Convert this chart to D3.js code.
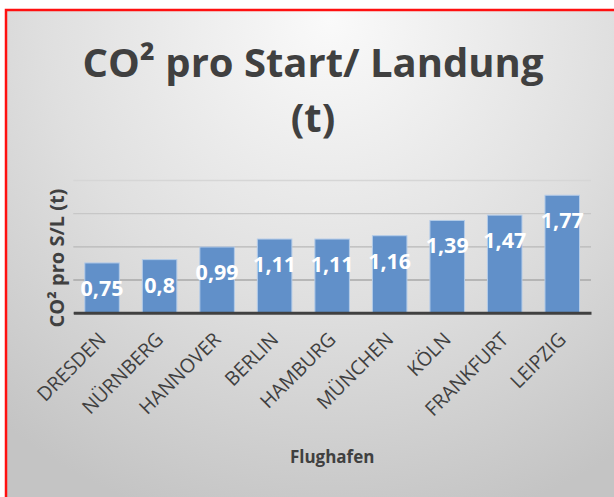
<!DOCTYPE html>
<html>
<head>
<meta charset="utf-8">
<script src="https://cdn.jsdelivr.net/npm/d3@7"></script>
<style>
  html, body { margin: 0; padding: 0; background: #ffffff; }
  svg { display: block; }
  text { font-family: "Open Sans", Lato, sans-serif; }
</style>
</head>
<body>
<div class="container"></div>
<script>
// CO2 per take-off / landing, by airport

var airports = ['DRESDEN', 'NÜRNBERG', 'HANNOVER', 'BERLIN', 'HAMBURG', 'MÜNCHEN', 'KÖLN', 'FRANKFURT', 'LEIPZIG'];
var co2 = [0.75, 0.8, 0.99, 1.11, 1.11, 1.16, 1.39, 1.47, 1.77];
var gridTicks = [0, 0.5, 1, 1.5, 2];

var chartOptions = {
  width: 614,
  height: 497,
  left: 73.3,
  right: 591,
  top: 180,
  bottom: 312.7,
  textColor: '#404040'
};

var svg = d3.select('.container').append('svg')
            .attr('width', chartOptions.width)
            .attr('height', chartOptions.height);

// background with soft radial shading
var defs = svg.append('defs');
var bg = defs.append('radialGradient')
             .attr('id', 'bg')
             .attr('gradientUnits', 'userSpaceOnUse')
             .attr('cx', 330).attr('cy', 20).attr('r', 520);
bg.append('stop').attr('offset', '0%').attr('stop-color', '#fafafa');
bg.append('stop').attr('offset', '55%').attr('stop-color', '#dfdfdf');
bg.append('stop').attr('offset', '100%').attr('stop-color', '#c4c4c4');

svg.append('rect')
   .attr('x', 0).attr('y', 0)
   .attr('width', chartOptions.width).attr('height', chartOptions.height)
   .attr('fill', '#ffffff');

svg.append('rect')
   .attr('x', 6).attr('y', 10)
   .attr('width', 640).attr('height', 520)
   .attr('fill', 'url(#bg)')
   .attr('stroke', '#ff1010')
   .attr('stroke-width', 2.5);

var x = d3.scaleBand()
          .domain(airports)
          .range([chartOptions.left, chartOptions.right])
          .paddingInner(0.4)
          .paddingOuter(0.2);

var y = d3.scaleLinear()
          .domain([0, 2])
          .range([chartOptions.bottom, chartOptions.top]);

// gridlines get darker toward the baseline
var gridColor = d3.scaleLinear().domain([0, 2]).range(['#9a9a9a', '#d6d6d6']);

var grid = svg.append('g')
              .attr('transform', 'translate(' + chartOptions.left + ',0)')
              .call(d3.axisLeft(y).tickValues(gridTicks)
                      .tickSize(-(chartOptions.right - chartOptions.left))
                      .tickFormat(''));
grid.select('.domain').remove();
grid.selectAll('.tick line')
    .attr('stroke', function(d){ return gridColor(d); })
    .attr('stroke-width', 1.3);

// bars
svg.selectAll('rect.bar')
   .data(co2)
   .enter()
   .append('rect')
   .attr('class', 'bar')
   .attr('x', function(d, i){ return x(airports[i]); })
   .attr('y', function(d){ return y(d); })
   .attr('width', x.bandwidth())
   .attr('height', function(d){ return y(0) - y(d); })
   .attr('fill', '#6190c9')
   .attr('stroke', '#b3cbe8')
   .attr('stroke-width', 1);

// value labels
svg.selectAll('text.value')
   .data(co2)
   .enter()
   .append('text')
   .attr('class', 'value')
   .attr('x', function(d, i){ return x(airports[i]) + x.bandwidth() / 2; })
   .attr('y', function(d){ return y(d) + 33; })
   .attr('text-anchor', 'middle')
   .attr('font-size', 21.5)
   .attr('font-weight', 'bold')
   .attr('fill', '#ffffff')
   .text(function(d){ return String(d).replace('.', ','); });

// x axis
var xAxis = svg.append('g')
               .attr('transform', 'translate(0,' + chartOptions.bottom + ')')
               .call(d3.axisBottom(x).tickSize(0).tickPadding(0));
xAxis.select('.domain')
     .attr('stroke', '#404040')
     .attr('stroke-width', 3);
xAxis.selectAll('.tick text')
     .attr('x', 0).attr('y', 0).attr('dy', 0)
     .attr('transform', 'translate(5,28) rotate(-45)')
     .attr('text-anchor', 'end')
     .attr('font-size', 19.5)
     .attr('font-family', '"Open Sans", Lato, sans-serif')
     .attr('fill', chartOptions.textColor);

// titles
var title = svg.append('text')
               .attr('text-anchor', 'middle')
               .attr('font-size', 40)
               .attr('font-weight', 'bold')
               .attr('fill', chartOptions.textColor);
title.append('tspan').attr('x', 313).attr('y', 77).text('CO² pro Start/ Landung');
title.append('tspan').attr('x', 313).attr('y', 132).text('(t)');

svg.append('text')
   .attr('transform', 'translate(64,258) rotate(-90)')
   .attr('text-anchor', 'middle')
   .attr('font-size', 20)
   .attr('font-weight', 'bold')
   .attr('fill', chartOptions.textColor)
   .text('CO² pro S/L (t)');

svg.append('text')
   .attr('x', (chartOptions.left + chartOptions.right) / 2)
   .attr('y', 463)
   .attr('text-anchor', 'middle')
   .attr('font-size', 17)
   .attr('font-weight', 'bold')
   .attr('fill', chartOptions.textColor)
   .text('Flughafen');
</script>
</body>
</html>
